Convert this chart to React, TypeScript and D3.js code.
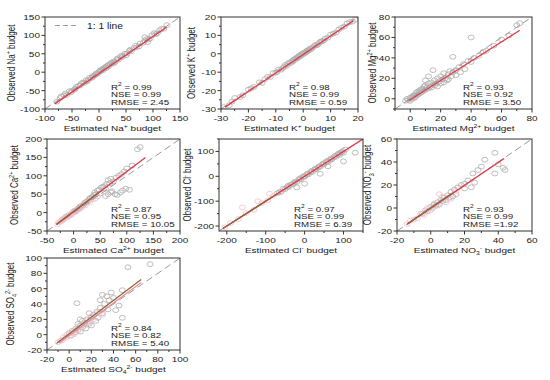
import React from "react";
import * as d3 from "d3";

// ---------- data (estimated, observed) ----------
const naGray = [[-78,-80],[-72,-70],[-65,-63],[-60,-62],[-55,-52],[-50,-50],[-46,-48],[-42,-40],[-38,-37],[-35,-36],[-30,-28],[-27,-29],[-24,-22],[-20,-21],[-17,-15],[-14,-16],[-11,-10],[-8,-9],[-5,-3],[-2,-4],[0,1],[3,2],[5,7],[8,6],[10,12],[13,11],[15,17],[18,16],[21,22],[24,23],[27,29],[30,28],[33,35],[36,34],[40,41],[44,42],[48,50],[52,51],[56,58],[60,57],[65,66],[70,68],[76,78],[82,80],[88,90],[92,89],[98,100],[105,103],[112,114],[120,118],[126,128],
  [-70,-66],[-62,-58],[-52,-55],[-44,-45],[-33,-31],[-22,-25],[-12,-13],[-6,-6],[2,5],[7,9],[12,14],[17,20],[23,26],[28,25],[35,38],[42,45],[50,46],[58,61],[68,72],[74,70],[85,86],[95,92],[102,106],[108,106],[116,118],[85,95],[90,82]];
const kGray = [[-29,-29],[-27,-28],[-25,-24],[-22,-22.5],[-20,-19.5],[-18,-18],[-16,-15.5],[-15,-15.8],[-13,-12.5],[-12,-12.6],[-11,-10.5],[-10,-10.2],[-9,-8.5],[-8,-8.6],[-7,-7.2],[-6.5,-6],[-6,-6.5],[-5,-4.6],[-4.5,-5],[-4,-3.8],[-3.5,-3.2],[-3,-3.3],[-2.5,-2.2],[-2,-2.4],[-1.5,-1],[-1,-1.3],[-0.5,0],[0,-0.3],[0.5,0.8],[1,0.6],[1.5,1.9],[2,1.7],[2.5,2.8],[3,2.6],[4,4.3],[5,4.6],[6,6.2],[7,6.8],[8,8.3],[9,8.8],[10,10.4],[12,11.6],[14,14.2],[16,16.5],[18,17.5],[19,18.5],
  [-26,-26],[-23,-23.5],[-19,-18.8],[-14,-13.8],[-9.5,-9.8],[-7.5,-7.8],[-5.5,-5.3],[-3.8,-4.2],[-2.8,-2.6],[-1.8,-1.7],[-0.8,-0.6],[0.2,0.3],[1.2,1.2],[2.2,2.3],[3.5,3.4],[4.5,4.8],[5.5,5.3],[6.5,6.8],[7.5,7.3],[11,11],[13,13.2],[15,14.8],[17,17.2]];
const mgGray = [[-3,-2],[-2,0],[-1,-1],[0,1],[0,-2],[1,2],[1,0],[2,3],[2,1],[3,4],[3,1],[4,3],[4,6],[5,4],[5,7],[6,5],[6,8],[7,6],[7,9],[8,7],[8,10],[9,8],[9,12],[10,9],[10,13],[10,18],[11,11],[12,10],[12,15],[12,22],[13,12],[14,16],[14,11],[15,14],[15,28],[16,18],[16,13],[17,15],[18,20],[18,12],[19,17],[20,22],[20,15],[21,19],[22,25],[22,16],[23,20],[24,18],[25,24],[25,19],[26,27],[27,22],[28,41],[28,26],[30,28],[30,23],[32,31],[33,26],[35,34],[36,29],[38,37],[40,60],[40,36],[42,40],[45,42],[48,46],[50,47],[55,52],[60,58],[65,62],[70,72],[72,74]];
const caGray = [[-20,-18],[-15,-12],[-10,-8],[-5,-4],[0,2],[2,5],[5,6],[8,10],[10,12],[12,16],[15,18],[18,20],[20,25],[22,28],[25,30],[28,33],[30,38],[32,40],[35,42],[38,48],[40,55],[42,50],[45,60],[48,62],[50,52],[52,68],[55,70],[58,72],[60,65],[62,78],[65,88],[68,80],[70,92],[72,58],[75,85],[78,50],[80,95],[82,48],[85,100],[88,55],[90,105],[92,60],[95,112],[98,65],[100,120],[105,62],[110,128],[120,172],[125,178],[60,45],[65,50],[70,55]];
const caPink = [[-30,-32],[-28,-27],[-25,-24],[-22,-23],[-20,-20],[-18,-16],[-15,-14],[-12,-13],[-10,-10],[-8,-6],[-5,-7],[-3,-2],[0,0],[3,1],[5,4],[8,8],[10,9],[15,13],[18,22],[22,20],[25,27],[30,28],[35,36],[40,38],[45,44]];
const clGray = [[-70,-68],[-60,-62],[-55,-50],[-50,-52],[-45,-44],[-40,-42],[-35,-33],[-30,-31],[-25,-22],[-20,-23],[-15,-13],[-10,-12],[-5,-3],[0,-2],[5,6],[10,8],[15,16],[20,18],[25,27],[30,28],[35,36],[40,38],[45,47],[50,48],[55,57],[60,58],[65,66],[70,68],[75,77],[80,78],[85,88],[90,86],[95,97],[100,95],[105,108],[0,-30],[-20,-45],[40,10],[100,60],[130,95],[60,40],
  [-65,-64],[-42,-38],[-28,-27],[-12,-8],[-2,1],[8,11],[18,22],[28,31],[38,41],[48,52],[58,62],[68,72],[78,82],[88,92],[92,94],[98,102]];
const clPink = [[-205,-205],[-190,-188],[-170,-172],[-150,-148],[-130,-135],[-110,-108],[-95,-97],[-80,-78],[-160,-125],[-120,-100],[-90,-70]];
const no3Gray = [[-5,-5],[-3,-2],[-2,-3],[0,1],[1,0],[2,3],[3,2],[4,5],[5,3],[6,7],[7,6],[8,9],[9,7],[10,11],[11,9],[12,14],[13,10],[14,16],[15,12],[16,18],[18,20],[20,17],[22,24],[24,18],[25,30],[28,33],[30,36],[32,42],[38,48],[38,30],[40,38],[43,35],[44,33],[20,21],[26,22]];
const no3Pink = [[-14,-14],[-12,-11],[-10,-10],[-8,-9],[-6,-5],[-4,-6],[-2,0],[0,-2],[2,4],[4,2],[5,12],[7,10],[9,5],[12,8],[15,15]];
const so4Gray = [[0,2],[2,-1],[3,5],[5,3],[6,8],[8,6],[8,14],[10,12],[10,4],[12,10],[12,18],[14,15],[15,8],[16,20],[18,14],[20,22],[20,12],[22,26],[24,18],[25,30],[26,22],[28,35],[28,45],[30,28],[30,52],[32,40],[34,50],[35,33],[36,45],[38,55],[40,48],[42,32],[45,38],[48,22],[48,58],[53,88],[73,92],[7,41],[10,20],[18,28]];
const so4Pink = [[-10,-10],[-8,-8],[-6,-7],[-5,-3],[-3,-4],[-2,0],[0,-2],[2,2],[4,5],[5,1],[6,6],[8,10],[10,9],[12,14],[14,12],[16,18],[18,16],[20,24],[22,20],[25,28],[28,30],[30,26]];

// regression lines (start, end)
const naFit = [[-82,-86],[125,122]];
const kFit = [[-28.5,-29],[18.3,18]];
const mgFit = [[-1,-2],[72,67]];
const caFit = [[-32,-32],[135,150]];
const caFit2 = [[-32,-32],[47,54]];
const clFit = [[-210,-210],[150,150]];
const clFit2 = [[-210,-210],[-70,-70]];
const no3Fit = [[-14,-14],[43.5,43]];
const no3Fit2 = [[-14,-14],[13,13.2]];
const so4Fit = [[-9,-11],[65,68]];
const so4Fit2 = [[-11,-11],[65,72]];

// tick labels
const naTicks = [-100,-50,0,50,100,150];
const kTicks = [-30,-20,-10,0,10,20];
const mgTicks = [0,20,40,60,80];
const caTicks = [-50,0,50,100,150,200];
const clTicks = [-200,-100,0,100];
const no3Ticks = [-20,0,20,40,60];
const so4Ticks = [-20,0,20,40,60,80,100];

// statistics
const stats = [
  ["0.99","0.99","= 2.45"],
  ["0.98","0.99","= 0.59"],
  ["0.93","0.92","= 3.50"],
  ["0.87","0.95","= 10.05"],
  ["0.97","0.99","= 6.39"],
  ["0.93","0.99","=1.92"],
  ["0.84","0.82","= 5.40"],
];

type Part = [string, number];
const ion = (pre: string, name: Part[]): Part[] => [[pre, 0], ...name, [" budget", 0]];
const ions: Part[][] = [
  [["Na",0],["+",1]],
  [["K",0],["+",1]],
  [["Mg",0],["2+",1]],
  [["Ca",0],["2+",1]],
  [["Cl",0],["-",1]],
  [["NO",0],["3",-1],["-",1]],
  [["SO",0],["4",-1],["2-",1]],
];

const RED = "#e63946";
const BROWN = "#8a6a3c";
const GRAY = "#adadad";
const PINK = "#f3bccb";
const FONT = "Liberation Sans, Arial, sans-serif";
const SX = 1.25; // horizontal stretch of all lettering

function T({ parts, fs, x, y, anchor = "start", rot = false }: any) {
  let prev = 0;
  return (
    <g transform={`translate(${x},${y}) scale(${SX},1)${rot ? " rotate(-90)" : ""}`}>
      <text x={0} y={0} fontSize={fs} fontFamily={FONT} fill="#1a1a1a" textAnchor={anchor}>
        {parts.map(([s, sh]: Part, i: number) => {
          const off = sh === 1 ? -fs * 0.4 : sh === -1 ? fs * 0.25 : 0;
          const dy = off - prev;
          prev = off;
          return (
            <tspan key={i} dy={dy} fontSize={sh ? fs * 0.68 : fs}>{s}</tspan>
          );
        })}
      </text>
    </g>
  );
}

type Cfg = {
  box: number[]; xd: number[]; yd: number[]; xt: number[]; yt: number[];
  gray: number[][]; pink?: number[][]; fit: number[][]; fit2?: number[][];
  fitLight?: boolean; ylx: number; idx: number;
};

const panels: Cfg[] = [
  { idx:0, box:[45,17,180,109], xd:[-100,150], yd:[-100,150], xt:naTicks, yt:naTicks, gray:naGray, fit:naFit, ylx:12 },
  { idx:1, box:[221,17,358,109], xd:[-30,20], yd:[-30,20], xt:kTicks, yt:kTicks, gray:kGray, fit:kFit, ylx:192 },
  { idx:2, box:[395,17,532,109], xd:[-10,80], yd:[-10,80], xt:mgTicks, yt:mgTicks, gray:mgGray, fit:mgFit, ylx:373 },
  { idx:3, box:[47,139,180,231], xd:[-50,200], yd:[-50,200], xt:caTicks, yt:caTicks, gray:caGray, pink:caPink, fit:caFit, fit2:caFit2, ylx:15 },
  { idx:4, box:[219,139,363,231], xd:[-220,150], yd:[-220,150], xt:clTicks, yt:clTicks, gray:clGray, pink:clPink, fit:clFit, fit2:clFit2, ylx:188 },
  { idx:5, box:[397,139,532,231], xd:[-20,60], yd:[-20,60], xt:no3Ticks, yt:no3Ticks, gray:no3Gray, pink:no3Pink, fit:no3Fit, fit2:no3Fit2, ylx:368 },
  { idx:6, box:[47,258,180,350], xd:[-20,100], yd:[-20,100], xt:so4Ticks, yt:so4Ticks, gray:so4Gray, pink:so4Pink, fit:so4Fit, fit2:so4Fit2, fitLight:true, ylx:11 },
];

function Panel({ c }: { c: Cfg }) {
  const [x0, y0, x1, y1] = c.box;
  const x = d3.scaleLinear().domain(c.xd).range([x0, x1]);
  const y = d3.scaleLinear().domain(c.yd).range([y1, y0]);
  const clipId = "clip" + c.idx;
  const minor = (t: number[]) => {
    const step = t[1] - t[0];
    const out: number[] = [];
    for (let v = t[0] - step / 2; v <= t[t.length - 1] + step / 2; v += step) out.push(v);
    return out;
  };
  const xm = minor(c.xt).filter(v => v >= c.xd[0] && v <= c.xd[1]);
  const ym = minor(c.yt).filter(v => v >= c.yd[0] && v <= c.yd[1]);
  const lo = Math.min(c.xd[0], c.yd[0]);
  const hi = Math.max(c.xd[1], c.yd[1]);
  const line = d3.line<number[]>().x(d => x(d[0])).y(d => y(d[1]));
  const ion_ = ions[c.idx];
  const st = stats[c.idx];
  const sx = x1 - 69;
  const fs = 8;
  const sfs = 7.8;
  return (
    <g>
      <defs>
        <clipPath id={clipId}><rect x={x0} y={y0} width={x1 - x0} height={y1 - y0} /></clipPath>
      </defs>
      <g clipPath={`url(#${clipId})`}>
        {c.gray.map((d, i) => (
          <ellipse key={"g" + i} cx={x(d[0])} cy={y(d[1])} rx={3} ry={2.4} fill="none" stroke={GRAY} strokeWidth={0.8} />
        ))}
        {(c.pink || []).map((d, i) => (
          <ellipse key={"p" + i} cx={x(d[0])} cy={y(d[1])} rx={3} ry={2.4} fill="none" stroke={PINK} strokeWidth={0.8} />
        ))}
        <line x1={x(lo)} y1={y(lo)} x2={x(hi)} y2={y(hi)} stroke="#9a9a9a" strokeWidth={1} strokeDasharray="7,4" />
        <path d={line(c.fit) || ""} stroke={c.fitLight ? "#eb8f98" : RED} strokeWidth={1.3} fill="none" />
        {c.fit2 && <path d={line(c.fit2) || ""} stroke={BROWN} strokeWidth={1.3} fill="none" />}
      </g>
      <rect x={x0} y={y0} width={x1 - x0} height={y1 - y0} fill="none" stroke="#333" strokeWidth={1} />
      {c.xt.map(t => (
        <g key={"xt" + t}>
          <line x1={x(t)} x2={x(t)} y1={y1} y2={y1 + 3.5} stroke="#333" />
          <T parts={[[String(t), 0]]} fs={fs} x={x(t)} y={y1 + 12} anchor="middle" />
        </g>
      ))}
      {xm.map(t => <line key={"xm" + t} x1={x(t)} x2={x(t)} y1={y1} y2={y1 + 2} stroke="#333" />)}
      {c.yt.map(t => (
        <g key={"yt" + t}>
          <line x1={x0 - 3.5} x2={x0} y1={y(t)} y2={y(t)} stroke="#333" />
          <T parts={[[String(t), 0]]} fs={fs} x={x0 - 5} y={y(t) + 2.9} anchor="end" />
        </g>
      ))}
      {ym.map(t => <line key={"ym" + t} x1={x0 - 2} x2={x0} y1={y(t)} y2={y(t)} stroke="#333" />)}
      <T parts={ion("Estimated ", ion_)} fs={fs} x={(x0 + x1) / 2} y={y1 + 22} anchor="middle" />
      <T parts={ion("Observed ", ion_)} fs={fs} x={c.ylx + 3} y={(y0 + y1) / 2} anchor="middle" rot />
      <T parts={[["R",0],["2",1],[" = " + st[0],0]]} fs={sfs} x={sx} y={y1 - 19.5} />
      <T parts={[["NSE = " + st[1],0]]} fs={sfs} x={sx} y={y1 - 11.7} />
      <T parts={[["RMSE " + st[2],0]]} fs={sfs} x={sx} y={y1 - 3.9} />
    </g>
  );
}

export default function App() {
  return (
    <svg width={550} height={380} style={{ position: "absolute", left: 0, top: 0, background: "#fff" }}>
      <rect width={550} height={380} fill="#fff" />
      {panels.map(p => <Panel key={p.idx} c={p} />)}
      <line x1={55} x2={78} y1={25.5} y2={25.5} stroke="#9a9a9a" strokeWidth={1} strokeDasharray="5,3" />
      <T parts={[["1: 1 line", 0]]} fs={8.2} x={87} y={28.5} />
    </svg>
  );
}
